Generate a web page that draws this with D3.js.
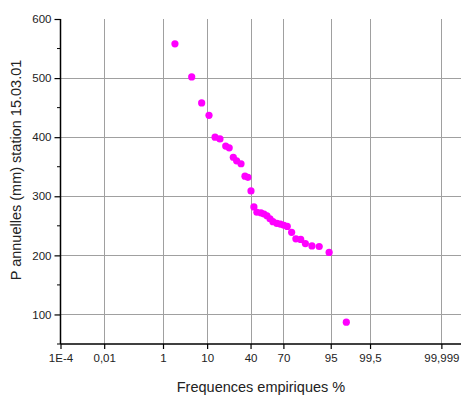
<!DOCTYPE html>
<html>
<head>
<meta charset="utf-8">
<script src="https://cdn.jsdelivr.net/npm/d3@7"></script>
<style>
  html, body { margin: 0; padding: 0; background: #fff; }
  svg { display: block; font-family: "Liberation Sans", Arial, sans-serif; }
</style>
</head>
<body>
<svg id="chart" width="461" height="396"></svg>
<script>
// Empirical non-exceedance frequency (%) of each annual total
const freqPct = [2.05, 4.98, 7.91, 10.8, 13.7, 16.4, 20.0, 22.4, 25.4, 28.0, 31.6,
  35.0, 37.6, 40.4, 43.1, 45.9, 49.7, 52.6, 55.4, 58.2, 60.9, 64.5, 67.5, 70.4,
  73.1, 76.4, 79.4, 82.5, 85.2, 88.5, 91.5, 94.6, 97.8];
// Annual precipitation (mm), sorted in decreasing order
const precipMm = [558, 502, 458, 437, 400, 397, 385, 382, 366, 360, 355,
  334, 332, 309, 282, 273, 272, 270, 267, 262, 257, 254, 253, 251,
  249, 239, 228, 227, 220, 216, 215, 205, 87];

// Probability axis ticks (%), with their printed labels
const xTickPct = [1e-4, 0.01, 1, 10, 40, 70, 95, 99.5, 99.999];
const xTickLabels = ["1E-4", "0,01", "1", "10", "40", "70", "95", "99,5", "99,999"];
const yTicks = [100, 200, 300, 400, 500, 600];
const yMinorTicks = [50, 150, 250, 350, 450, 550];

// Inverse standard normal CDF (Acklam's rational approximation)
function probit(p) {
  const a = [-3.969683028665376e+01, 2.209460984245205e+02, -2.759285104469687e+02,
             1.383577518672690e+02, -3.066479806614716e+01, 2.506628277459239e+00];
  const b = [-5.447609879822406e+01, 1.615858368580409e+02, -1.556989798598866e+02,
             6.680131188771972e+01, -1.328068155288572e+01];
  const c = [-7.784894002430293e-03, -3.223964580411365e-01, -2.400758277161838e+00,
             -2.549671664277021e+00, 4.374664141464968e+00, 2.938163982698783e+00];
  const d = [7.784695709041462e-03, 3.224671290700398e-01, 2.445134137142996e+00,
             3.754408661907416e+00];
  const pl = 0.02425, ph = 1 - pl;
  let q, r;
  if (p < pl) {
    q = Math.sqrt(-2 * Math.log(p));
    return (((((c[0]*q+c[1])*q+c[2])*q+c[3])*q+c[4])*q+c[5]) /
           ((((d[0]*q+d[1])*q+d[2])*q+d[3])*q+1);
  }
  if (p <= ph) {
    q = p - 0.5; r = q * q;
    return (((((a[0]*r+a[1])*r+a[2])*r+a[3])*r+a[4])*r+a[5])*q /
           (((((b[0]*r+b[1])*r+b[2])*r+b[3])*r+b[4])*r+1);
  }
  q = Math.sqrt(-2 * Math.log(1 - p));
  return -(((((c[0]*q+c[1])*q+c[2])*q+c[3])*q+c[4])*q+c[5]) /
          ((((d[0]*q+d[1])*q+d[2])*q+d[3])*q+1);
}

const svg = d3.select("#chart");
const plotLeft = 60.5, plotRight = 462, plotTop = 19, plotBottom = 344;

// x works in normal-quantile space: 1E-4 % .. 99.9999 %
const zMin = probit(1e-6), zMax = probit(1 - 1e-6);
const x = d3.scaleLinear().domain([zMin, zMax]).range([plotLeft, plotRight]);
const xp = pct => x(probit(pct / 100));
const y = d3.scaleLinear().domain([50, 600]).range([plotBottom, plotTop]);

const grid = svg.append("g").attr("stroke", "#a0a0a0").attr("stroke-width", 1);
// vertical grid lines
grid.selectAll("line.v").data(xTickPct.slice(1)).join("line")
  .attr("class", "v")
  .attr("x1", d => Math.round(xp(d)) + 0.5).attr("x2", d => Math.round(xp(d)) + 0.5)
  .attr("y1", plotTop).attr("y2", plotBottom);
// horizontal grid lines
grid.selectAll("line.h").data(yTicks.slice(0, -1)).join("line")
  .attr("class", "h")
  .attr("x1", plotLeft).attr("x2", plotRight)
  .attr("y1", d => Math.round(y(d)) + 0.5).attr("y2", d => Math.round(y(d)) + 0.5);

// y axis
const yAxis = svg.append("g").attr("transform", `translate(${plotLeft},0)`)
  .call(d3.axisLeft(y).tickValues(yTicks).tickSize(6).tickPadding(3).tickFormat(d3.format("d")));
yAxis.select(".domain").attr("d", `M0,${plotTop}V${plotBottom}`);
yAxis.append("g").selectAll("line").data(yMinorTicks).join("line")
  .attr("x1", -3.5).attr("x2", 0).attr("y1", d => y(d)).attr("y2", d => y(d))
  .attr("stroke", "#000");

// x axis
const xAxis = svg.append("g").attr("transform", `translate(0,${plotBottom})`)
  .call(d3.axisBottom(x).tickValues(xTickPct.map(p => probit(p / 100)))
    .tickSize(5).tickPadding(5).tickFormat((d, i) => xTickLabels[i]));
xAxis.select(".domain").attr("d", `M${plotLeft},0H${plotRight}`);

[yAxis, xAxis].forEach(g => {
  g.select(".domain").attr("stroke", "#000").attr("stroke-width", 1.5);
  g.selectAll(".tick line").attr("stroke", "#000").attr("stroke-width", 1.2);
  g.selectAll(".tick text").attr("font-size", 11.5).attr("fill", "#222")
    .attr("font-family", "'Liberation Sans', Arial, sans-serif");
});

// points
svg.append("g").selectAll("circle").data(freqPct).join("circle")
  .attr("cx", d => xp(d))
  .attr("cy", (d, i) => y(precipMm[i]))
  .attr("r", 3.6)
  .attr("fill", "#ff00ff");

// axis titles
svg.append("text")
  .attr("x", 261).attr("y", 392)
  .attr("text-anchor", "middle").attr("font-size", 14.5).attr("fill", "#222")
  .text("Frequences empiriques %");
svg.append("text")
  .attr("transform", "translate(21,170) rotate(-90)")
  .attr("text-anchor", "middle").attr("font-size", 14.5).attr("fill", "#222")
  .text("P annuelles (mm) station 15.03.01");
</script>
</body>
</html>
